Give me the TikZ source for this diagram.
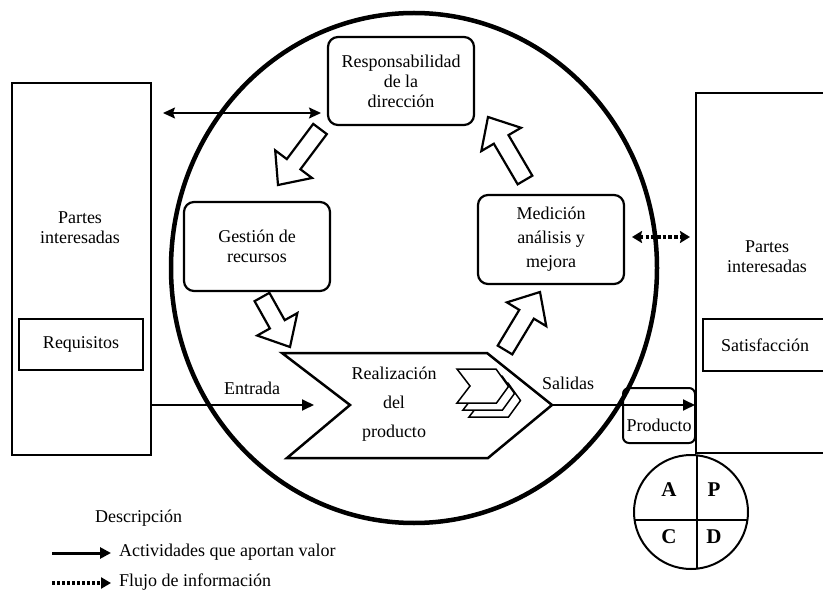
\documentclass[tikz,border=0pt]{standalone}
\usepackage{fontspec}
\setmainfont{Liberation Serif}
\usetikzlibrary{arrows.meta,calc}

\tikzset{
  txt/.style={font=\fontsize{18}{20}\selectfont, align=center, inner sep=0pt},
  rbox/.style={draw, line width=2.2pt, rounded corners=10pt, minimum width=146pt, minimum height=88pt, txt},
  sqbox/.style={draw, line width=2.4pt, inner sep=0pt},
  hollow/.style={draw, fill=white, line width=2.2pt, line join=miter},
  flow/.style={line width=1.8pt, -{Triangle[length=12pt,width=11pt]}},
  info/.style={line width=3.5pt, dash pattern=on 3.5pt off 2.2pt,
    {Stealth[length=10pt,width=12pt,inset=1.5pt]}-{Stealth[length=10pt,width=12pt,inset=1.5pt]}},
  both/.style={line width=1.8pt,
    {Stealth[length=12pt,width=11pt,inset=2pt]}-{Stealth[length=12pt,width=11pt,inset=2pt]}},
  pdca/.style={font=\fontsize{21}{21}\selectfont\bfseries, inner sep=0pt},
}

% hollow block arrow from a tail point to a tip point
\newcommand\blockarrow[2]{%
  \coordinate (ba-h) at ($(#2)!26pt!(#1)$);
  \draw[hollow] ($(#1)!8.5pt!90:(#2)$) -- ($(ba-h)!8.5pt!90:(#2)$)
    -- ($(ba-h)!23pt!90:(#2)$) -- (#2) -- ($(ba-h)!23pt!-90:(#2)$)
    -- ($(ba-h)!8.5pt!-90:(#2)$) -- ($(#1)!8.5pt!-90:(#2)$) -- cycle;
}

% one small chevron of the stacked icon
\newcommand\minichevron[2]{%
  \draw[line width=1.5pt, fill=white, line join=miter, shift={(#1,#2)}]
    (457,369) -- (496,369) -- (508.5,386.5) -- (496.5,403) -- (457,403) -- (470,386) -- cycle;
}

\begin{document}
\begin{tikzpicture}[x=1pt, y=-1pt]
  \useasboundingbox (0,0) rectangle (823,599);

  % process circle
  \draw[line width=4.5pt] (414,268) ellipse [x radius=243, y radius=255];

  % left stakeholders
  \node[sqbox, minimum width=139pt, minimum height=372pt] (lbox) at (81.5,269) {};
  \node[txt] (ltext) at (80,228) {Partes\\interesadas};
  \node[sqbox, minimum width=124pt, minimum height=51pt, txt] (req) at (81,344.5) {Requisitos};

  % right stakeholders (open towards the page edge)
  \draw[line width=2.4pt] (840,93) -- (696,93) -- (696,453) -- (840,453);
  \node[txt] (rtext) at (767,257) {Partes\\interesadas};
  \draw[line width=2.4pt] (840,319) -- (703,319) -- (703,371) -- (840,371);
  \node[txt] (sat) at (765,345) {Satisfacción};

  % management boxes
  \node[rbox] (resp) at (401,81) {Responsabilidad\\de la\\dirección};
  \node[rbox, minimum height=89pt] (gest) at (257,246.5) {Gestión de\\recursos};
  \node[rbox, minimum height=89pt, font=\fontsize{18}{24}\selectfont] (med) at (551,239.5) {Medición\\análisis y\\mejora};

  % product realisation chevron
  \coordinate (chev-notch) at (350,405);
  \coordinate (chev-tip) at (552,405);
  \draw[line width=2.5pt, line join=miter] (282,353) -- (487,353) -- (chev-tip)
    -- (488,458) -- (287,458) -- (chev-notch) -- cycle;
  \node[txt, font=\fontsize{18}{29}\selectfont] (real) at (394,404) {Realización\\del\\producto};
  \minichevron{12}{14}
  \minichevron{6}{7}
  \minichevron{0}{0}

  % cycle arrows
  \coordinate (a1s) at (320,129); \coordinate (a1e) at (278,185);
  \coordinate (a2s) at (262,297); \coordinate (a2e) at (290,347);
  \coordinate (a3s) at (505,350); \coordinate (a3e) at (540,292);
  \coordinate (a4s) at (525,180); \coordinate (a4e) at (488,117);
  \blockarrow{a1s}{a1e}
  \blockarrow{a2s}{a2e}
  \blockarrow{a3s}{a3e}
  \blockarrow{a4s}{a4e}

  % input and output
  \coordinate (in-end) at (314,405);
  \draw[flow] (lbox.east |- in-end) -- (in-end);
  \node[txt] (entrada) at (252,388) {Entrada};
  \coordinate (out-end) at (695,405);
  \draw[flow] (chev-tip) -- (out-end);
  \node[txt] (salidas) at (568,383) {Salidas};
  \node[draw, line width=2pt, rounded corners=6pt, minimum width=72pt, minimum height=55pt] (prod) at (659,415.5) {};
  \node[txt] (prodtext) at (659,425) {Producto};

  % information exchanges
  \coordinate (dl) at (163,113); \coordinate (dr) at (321,113);
  \draw[both] (dl) -- (dr);
  \coordinate (il) at (632,237); \coordinate (ir) at (690,237);
  \draw[info] (il) -- (ir);

  % PDCA disc
  \draw[line width=2pt] (691,512) circle [radius=57];
  \draw[line width=2pt] (697,455.3) -- (697,568.7);
  \draw[line width=2pt] (634.6,520) -- (747.4,520);
  \node[pdca] (pA) at (669,490) {A};
  \node[pdca] (pP) at (714,490) {P};
  \node[pdca] (pC) at (669,537) {C};
  \node[pdca] (pD) at (714,537) {D};

  % legend
  \node[txt, anchor=west] (desc) at (95,518) {Descripción};
  \coordinate (l1a) at (52,553); \coordinate (l1b) at (111,553);
  \draw[line width=3pt, -{Triangle[length=11pt,width=11pt]}] (l1a) -- (l1b);
  \node[txt, anchor=west] (leg1) at (119,552) {Actividades que aportan valor};
  \coordinate (l2a) at (52,583); \coordinate (l2b) at (111,583);
  \draw[line width=3.5pt, dash pattern=on 3pt off 2pt, -{Triangle[length=10pt,width=11pt]}] (l2a) -- (l2b);
  \node[txt, anchor=west] (leg2) at (119,582) {Flujo de información};
\end{tikzpicture}
\end{document}
